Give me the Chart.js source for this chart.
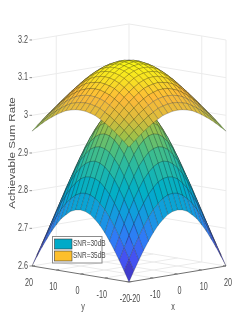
<!DOCTYPE html>
<html>
<head>
<meta charset="utf-8">
<style>
html, body { margin: 0; padding: 0; background: #fff; overflow: hidden; }
canvas { display: block; }
</style>
<script src="https://cdn.jsdelivr.net/npm/chart.js@4/dist/chart.umd.min.js"></script>
</head>
<body>
<canvas id="surfaceChart" width="249" height="319"></canvas>
<script>
const gridSteps = [0, 2, 4, 6, 8, 10, 12, 14, 16, 18, 20];
const xyTicks = [-20, -10, 0, 10, 20];
const zTicks = [2.6, 2.7, 2.8, 2.9, 3, 3.1, 3.2];
const seriesNames = ['SNR=30dB', 'SNR=35dB'];

// rate at |x| (row) and |y| (column), the surfaces are symmetric around 0
const rate30dB = [
    [3.040, 3.037, 3.027, 3.011, 2.988, 2.961, 2.929, 2.893, 2.853, 2.812, 2.770],
    [3.037, 3.034, 3.024, 3.008, 2.986, 2.958, 2.926, 2.890, 2.851, 2.810, 2.768],
    [3.027, 3.024, 3.014, 2.998, 2.977, 2.949, 2.918, 2.882, 2.844, 2.803, 2.762],
    [3.011, 3.008, 2.998, 2.982, 2.961, 2.934, 2.903, 2.869, 2.831, 2.791, 2.751],
    [2.988, 2.986, 2.977, 2.961, 2.941, 2.915, 2.885, 2.852, 2.815, 2.777, 2.738],
    [2.961, 2.958, 2.949, 2.934, 2.915, 2.890, 2.861, 2.829, 2.794, 2.758, 2.720],
    [2.929, 2.926, 2.918, 2.903, 2.885, 2.861, 2.834, 2.804, 2.771, 2.736, 2.700],
    [2.893, 2.890, 2.882, 2.869, 2.852, 2.829, 2.804, 2.775, 2.744, 2.711, 2.677],
    [2.853, 2.851, 2.844, 2.831, 2.815, 2.794, 2.771, 2.744, 2.715, 2.684, 2.653],
    [2.812, 2.810, 2.803, 2.791, 2.777, 2.758, 2.736, 2.711, 2.684, 2.656, 2.627],
    [2.770, 2.768, 2.762, 2.751, 2.738, 2.720, 2.700, 2.677, 2.653, 2.627, 2.600]
];
const rate35dB = [
    [3.145, 3.144, 3.140, 3.133, 3.124, 3.113, 3.100, 3.085, 3.069, 3.052, 3.035],
    [3.144, 3.142, 3.138, 3.132, 3.123, 3.112, 3.098, 3.084, 3.068, 3.051, 3.034],
    [3.140, 3.138, 3.134, 3.128, 3.119, 3.108, 3.095, 3.080, 3.065, 3.048, 3.031],
    [3.133, 3.132, 3.128, 3.122, 3.113, 3.102, 3.090, 3.075, 3.060, 3.044, 3.027],
    [3.124, 3.123, 3.119, 3.113, 3.104, 3.093, 3.081, 3.067, 3.052, 3.036, 3.020],
    [3.113, 3.112, 3.108, 3.102, 3.093, 3.083, 3.071, 3.058, 3.043, 3.028, 3.012],
    [3.100, 3.098, 3.095, 3.090, 3.081, 3.071, 3.060, 3.047, 3.033, 3.018, 3.003],
    [3.085, 3.084, 3.080, 3.075, 3.067, 3.058, 3.047, 3.035, 3.021, 3.007, 2.993],
    [3.069, 3.068, 3.065, 3.060, 3.052, 3.043, 3.033, 3.021, 3.009, 2.996, 2.982],
    [3.052, 3.051, 3.048, 3.044, 3.036, 3.028, 3.018, 3.007, 2.996, 2.983, 2.970],
    [3.035, 3.034, 3.031, 3.027, 3.020, 3.012, 3.003, 2.993, 2.982, 2.970, 2.958]
];

const parula = [
    [0, 62, 38, 168], [0.1, 68, 82, 242], [0.2, 46, 125, 246], [0.3, 20, 155, 224],
    [0.4, 0, 174, 200], [0.5, 33, 184, 170], [0.6, 77, 191, 127], [0.7, 160, 192, 72],
    [0.78, 222, 188, 60], [0.86, 254, 186, 56], [0.92, 248, 220, 38], [1, 249, 248, 20]
];

function colorFor(z) {
    const t = Math.min(1, Math.max(0, (z - 2.6) / 0.545));
    let i = 0;
    while (i < parula.length - 2 && t > parula[i + 1][0]) i++;
    const a = parula[i], b = parula[i + 1];
    const f = (t - a[0]) / (b[0] - a[0]);
    const c = [1, 2, 3].map(k => Math.round(a[k] + (b[k] - a[k]) * f));
    return `rgb(${c[0]}, ${c[1]}, ${c[2]})`;
}

// fixed camera of the 3d view
function project(x, y, z) {
    return {
        x: 129 + (x - y) * 2.425,
        y: 266 - (x + y) * 0.4 - (z - 2.6) * 376.7
    };
}

function rateAt(rows, x, y) {
    return rows[gridSteps.indexOf(Math.abs(x))][gridSteps.indexOf(Math.abs(y))];
}

const axisValues = gridSteps.slice(1).reverse().map(v => -v).concat(gridSteps);

function surfaceCells(rows) {
    const cells = [];
    for (let i = 0; i < axisValues.length - 1; i++) {
        for (let j = 0; j < axisValues.length - 1; j++) {
            const corners = [[i, j], [i + 1, j], [i + 1, j + 1], [i, j + 1], [i, j]].map(([a, b]) => {
                const x = axisValues[a], y = axisValues[b];
                return { x, y, z: rateAt(rows, x, y) };
            });
            const mean = corners.slice(0, 4).reduce((s, c) => s + c.z, 0) / 4;
            cells.push({
                depth: axisValues[i] + axisValues[j],
                data: corners.map(c => project(c.x, c.y, c.z)),
                color: colorFor(mean)
            });
        }
    }
    // back cells get painted first
    return cells.sort((a, b) => b.depth - a.depth);
}

function lineSet(points, color, width) {
    return {
        data: points.map(p => project(p[0], p[1], p[2])),
        showLine: true,
        borderColor: color,
        borderWidth: width,
        pointRadius: 0,
        fill: false
    };
}

const gridColor = '#ebebeb';
const axisColor = '#707070';
const behind = [];
zTicks.forEach(z => {
    behind.push(lineSet([[-20, 20, z], [20, 20, z], [20, -20, z]], gridColor, 1));
});
[[-10, 20], [20, 20], [20, -10], [20, -20]].forEach(([x, y]) => {
    behind.push(lineSet([[x, y, 2.6], [x, y, 3.2]], gridColor, 1));
});
[-10, 0, 10].forEach(v => {
    behind.push(lineSet([[v, -20, 2.6], [v, 20, 2.6]], gridColor, 1));
    behind.push(lineSet([[-20, v, 2.6], [20, v, 2.6]], gridColor, 1));
});
const front = [lineSet([[-20, 20, 2.6], [-20, -20, 2.6], [20, -20, 2.6]], axisColor, 1)];
xyTicks.forEach(v => {
    front.push(lineSet([[v, -20, 2.6], [v, -18.8, 2.6]], axisColor, 0.8));
    front.push(lineSet([[-20, v, 2.6], [-18.8, v, 2.6]], axisColor, 0.8));
});

const surfaces = [rate30dB, rate35dB].flatMap(rows => surfaceCells(rows)).map(cell => ({
    data: cell.data,
    showLine: true,
    fill: 'shape',
    backgroundColor: cell.color,
    borderColor: 'rgba(25, 25, 25, 0.45)',
    borderWidth: 0.5,
    pointRadius: 0
}));

// chart.js paints dataset 0 last
const datasets = behind.concat(front, surfaces).reverse();

function squeezedText(ctx, text, x, y, size, align) {
    ctx.save();
    ctx.translate(x, y);
    ctx.scale(0.72, 1);
    ctx.font = `${size}px "Liberation Sans"`;
    ctx.fillStyle = '#4a4a4a';
    ctx.textAlign = align;
    ctx.textBaseline = 'middle';
    ctx.fillText(text, 0, 0);
    ctx.restore();
}

const labelsPlugin = {
    id: 'surfaceLabels',
    afterDraw(chart) {
        const ctx = chart.ctx;
        zTicks.forEach(z => {
            const p = project(-20, 20, z);
            ctx.strokeStyle = axisColor;
            ctx.lineWidth = 0.8;
            ctx.beginPath();
            ctx.moveTo(p.x - 2.5, p.y);
            ctx.lineTo(p.x, p.y);
            ctx.stroke();
            squeezedText(ctx, String(z), p.x - 4, p.y, 10, 'right');
        });
        xyTicks.forEach(v => {
            const px = project(v, -20, 2.6);
            squeezedText(ctx, String(v), px.x + (v === -20 ? 6 : 2), px.y + 17, 10, 'center');
            const py = project(-20, v, 2.6);
            squeezedText(ctx, String(v), py.x - (v === -20 ? 4 : 3), py.y + 17, 10, 'center');
        });
        squeezedText(ctx, 'y', 83, 307, 10, 'center');
        squeezedText(ctx, 'x', 173, 307, 10, 'center');

        ctx.save();
        ctx.translate(13, 153);
        ctx.rotate(-Math.PI / 2);
        ctx.scale(1.29, 1);
        ctx.font = '9px "Liberation Sans"';
        ctx.fillStyle = '#4a4a4a';
        ctx.textAlign = 'center';
        ctx.textBaseline = 'middle';
        ctx.fillText('Achievable Sum Rate', 0, 0);
        ctx.restore();

        // legend box
        ctx.fillStyle = '#fff';
        ctx.strokeStyle = '#8c8c8c';
        ctx.lineWidth = 1;
        ctx.fillRect(52.5, 236.5, 49.5, 26.5);
        ctx.strokeRect(52.5, 236.5, 49.5, 26.5);
        const swatches = ['#00aac8', '#fdbf2c'];
        seriesNames.forEach((name, i) => {
            const top = 239 + i * 12;
            ctx.fillStyle = swatches[i];
            ctx.fillRect(54.5, top, 17.5, 10);
            ctx.strokeStyle = '#3a3a3a';
            ctx.lineWidth = 0.6;
            ctx.strokeRect(54.5, top, 17.5, 10);
            squeezedText(ctx, name, 73, top + 5, 9, 'left');
        });
    }
};

new Chart(document.getElementById('surfaceChart').getContext('2d'), {
    type: 'scatter',
    data: { datasets },
    options: {
        responsive: false,
        animation: false,
        layout: { padding: 0 },
        plugins: { legend: { display: false }, tooltip: { enabled: false } },
        scales: {
            x: { type: 'linear', min: 0, max: 249, display: false },
            y: { type: 'linear', min: 0, max: 319, reverse: true, display: false }
        }
    },
    plugins: [labelsPlugin]
});
</script>
</body>
</html>
